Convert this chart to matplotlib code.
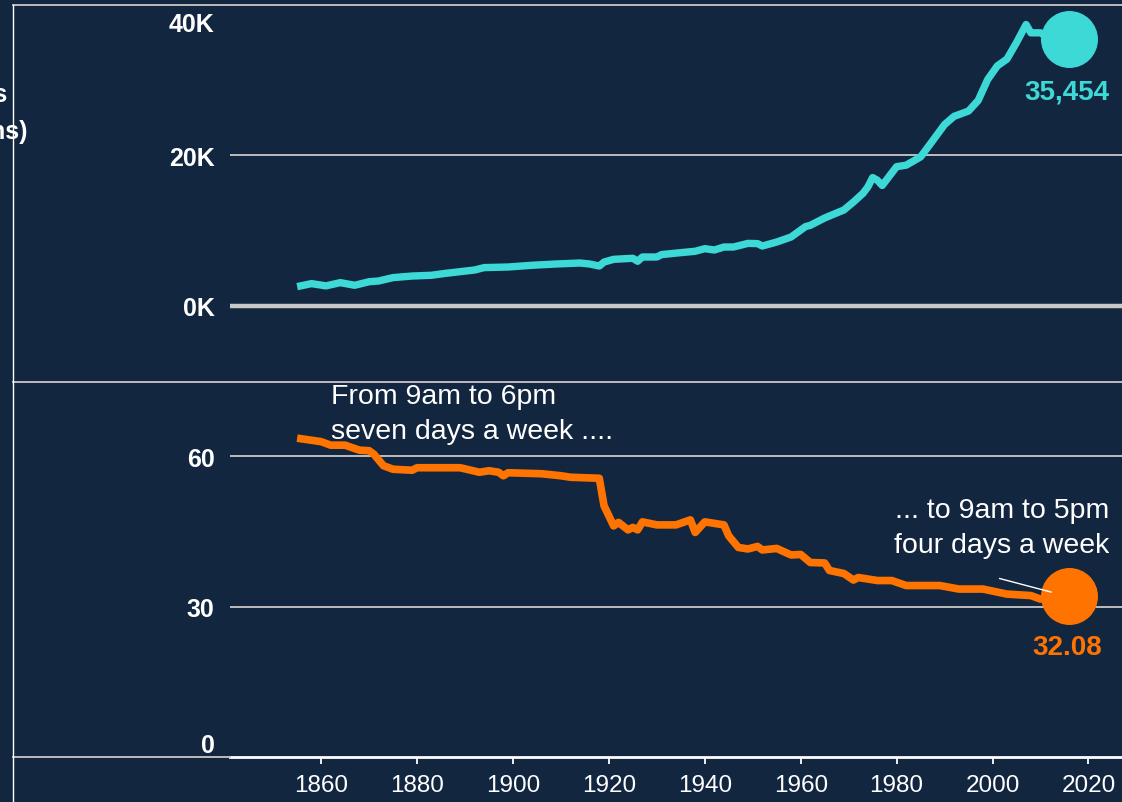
import matplotlib
matplotlib.use("Agg")
import matplotlib.pyplot as plt
from matplotlib.lines import Line2D
from matplotlib.transforms import ScaledTranslation

# datos
gdp_years = [1855, 1858, 1861, 1864, 1867, 1870, 1872, 1875, 1879, 1883, 1886, 1892,
             1894, 1899, 1904, 1909, 1914, 1916, 1918, 1919, 1921, 1925, 1926, 1927,
             1930, 1931, 1935, 1938, 1940, 1942, 1944, 1946, 1949, 1951, 1952, 1955,
             1958, 1961, 1962, 1965, 1969, 1971, 1973, 1974, 1975, 1976, 1977, 1980,
             1982, 1985, 1987, 1990, 1992, 1995, 1997, 1999, 2001, 2003, 2005, 2007,
             2008, 2010, 2011, 2016]
gdp_values = [2550, 2950, 2650, 3080, 2730, 3200, 3300, 3750, 3960, 4060, 4320, 4760,
              5080, 5160, 5390, 5560, 5690, 5560, 5290, 5820, 6180, 6320, 5920, 6490,
              6490, 6810, 7070, 7250, 7600, 7420, 7820, 7820, 8300, 8270, 7950, 8480,
              9150, 10530, 10700, 11680, 12740, 13800, 14960, 15800, 17050, 16690, 16000, 18500,
              18700, 19800, 21500, 24100, 25200, 25900, 27300, 30100, 31900, 32800, 35000, 37400,
              36300, 36300, 35900, 35454]

hours_years = [1855, 1860, 1862, 1865, 1868, 1870, 1871, 1873, 1875, 1879, 1880, 1889,
               1893, 1895, 1897, 1898, 1899, 1906, 1910, 1912, 1918, 1919, 1921, 1922,
               1924, 1925, 1926, 1927, 1930, 1934, 1937, 1938, 1940, 1944, 1945, 1947,
               1949, 1951, 1952, 1955, 1958, 1960, 1962, 1965, 1966, 1969, 1971, 1972,
               1976, 1979, 1982, 1989, 1993, 1998, 2001, 2003, 2008, 2010, 2016]
hours_values = [63.6, 62.9, 62.2, 62.2, 61.2, 61.1, 60.4, 58.1, 57.4, 57.2, 57.7, 57.7,
                56.8, 57.1, 56.8, 56.1, 56.7, 56.5, 56.1, 55.8, 55.6, 50.1, 46.1, 46.8,
                45.3, 45.8, 45.3, 46.9, 46.3, 46.3, 47.3, 44.8, 46.9, 46.3, 44.1, 41.8,
                41.5, 42.0, 41.3, 41.6, 40.3, 40.4, 38.8, 38.7, 37.2, 36.6, 35.3, 35.8,
                35.2, 35.2, 34.2, 34.2, 33.5, 33.5, 32.9, 32.5, 32.2, 31.5, 32.08]

x_ticks = [1860, 1880, 1900, 1920, 1940, 1960, 1980, 2000, 2020]
gdp_ticks = [0, 20000, 40000]
gdp_labels = ["0K", "20K", "40K"]
hours_ticks = [0, 30, 60]
hours_labels = ["0", "30", "60"]

FONDO = "#13263F"
CIAN = "#3DD9D6"
NARANJA = "#FF7400"
GRIS = "#C8C8C8"

plt.rcParams['font.family'] = ['Liberation Sans', 'DejaVu Sans']

fig = plt.figure(figsize=(11.22, 8.03), dpi=100, facecolor=FONDO)

W, H = 1122.0, 803.0
left = 230 / W
width = 1 - left
ax1 = fig.add_axes([left, (H - 382) / H, width, 376 / H], facecolor=FONDO)
ax2 = fig.add_axes([left, (H - 758) / H, width, 376 / H], facecolor=FONDO)

for ax in (ax1, ax2):
    ax.set_xlim(1841, 2027)
    for s in ax.spines.values():
        s.set_visible(False)
    ax.tick_params(axis='y', length=0, pad=11, labelcolor='white', labelsize=18)

# PANEL SUPERIOR
ax1.set_ylim(-10000, 40000)
ax1.set_yticks(gdp_ticks)
ax1.set_yticklabels(gdp_labels, fontweight='bold')
ax1.set_xticks([])
ax1.axhline(20000, color=GRIS, lw=1.3, zorder=1)
ax1.axhline(0, color=GRIS, lw=3.2, zorder=1)
ax1.plot(gdp_years, gdp_values, color=CIAN, lw=5.3, solid_capstyle='butt',
         solid_joinstyle='round', zorder=3)
ax1.plot(gdp_years[-1], gdp_values[-1], 'o', ms=40, color=CIAN, zorder=4)
ax1.text(2015.4, 28500, "{:,}".format(gdp_values[-1]), color=CIAN, fontsize=20,
         fontweight='bold', ha='center', va='center')

# PANEL INFERIOR
ax2.set_ylim(0, 75)
ax2.set_yticks(hours_ticks)
ax2.set_yticklabels(hours_labels, fontweight='bold')
ax2.axhline(30, color=GRIS, lw=1.3, zorder=1)
ax2.axhline(60, color=GRIS, lw=1.3, zorder=1)
ax2.spines['bottom'].set_visible(True)
ax2.spines['bottom'].set_color('white')
ax2.spines['bottom'].set_linewidth(2)
ax2.set_xticks(x_ticks)
ax2.tick_params(axis='x', length=5, width=1.3, color='white', pad=7,
                labelcolor='white', labelsize=17.5)
ax2.plot(hours_years, hours_values, color=NARANJA, lw=5.5, solid_capstyle='butt',
         solid_joinstyle='round', zorder=3)
ax2.plot(hours_years[-1], hours_values[-1], 'o', ms=40, color=NARANJA, zorder=4)
ax2.text(2015.6, 21.9, "{:.2f}".format(hours_values[-1]), color=NARANJA, fontsize=20,
         fontweight='bold', ha='center', va='center')

ax2.text(1862.1, 68.6, "From 9am to 6pm\nseven days a week ....", color='white',
         fontsize=20.5, ha='left', va='center', linespacing=1.45)
ax2.text(2024.4, 45.7, "... to 9am to 5pm\nfour days a week", color='white',
         fontsize=20.5, ha='right', va='center', multialignment='right', linespacing=1.45)
ax2.plot([2001.5, 2012.2], [35.6, 32.9], color='white', lw=1, zorder=5)

# etiquetas de tick extremas hacia dentro
lab40 = ax1.get_yticklabels()[-1]
lab40.set_va('top')
lab40.set_transform(lab40.get_transform() + ScaledTranslation(0, -5 / 72, fig.dpi_scale_trans))
ax2.get_yticklabels()[0].set_va('bottom')

# LINEAS DEL MARCO
x0 = 13 / W
for yy in (6, 382.5):
    fig.add_artist(Line2D([x0, 1], [1 - yy / H, 1 - yy / H], color=GRIS, lw=1.3))
fig.add_artist(Line2D([x0, left], [1 - 758 / H, 1 - 758 / H], color=GRIS, lw=1.3))
fig.add_artist(Line2D([x0, x0], [0, 1 - 6 / H], color='white', lw=1))

# titulo del eje (cortado en el original)
fig.text(7 / W, 1 - 95 / H, "GDP per capita in US dollars", color='white', fontsize=18,
         fontweight='bold', ha='right', va='center')
fig.text(28 / W, 1 - 132 / H, "(2011 prices, PPP conversions)", color='white', fontsize=18,
         fontweight='bold', ha='right', va='center')

fig.savefig("out.png", dpi=100, facecolor=FONDO)
